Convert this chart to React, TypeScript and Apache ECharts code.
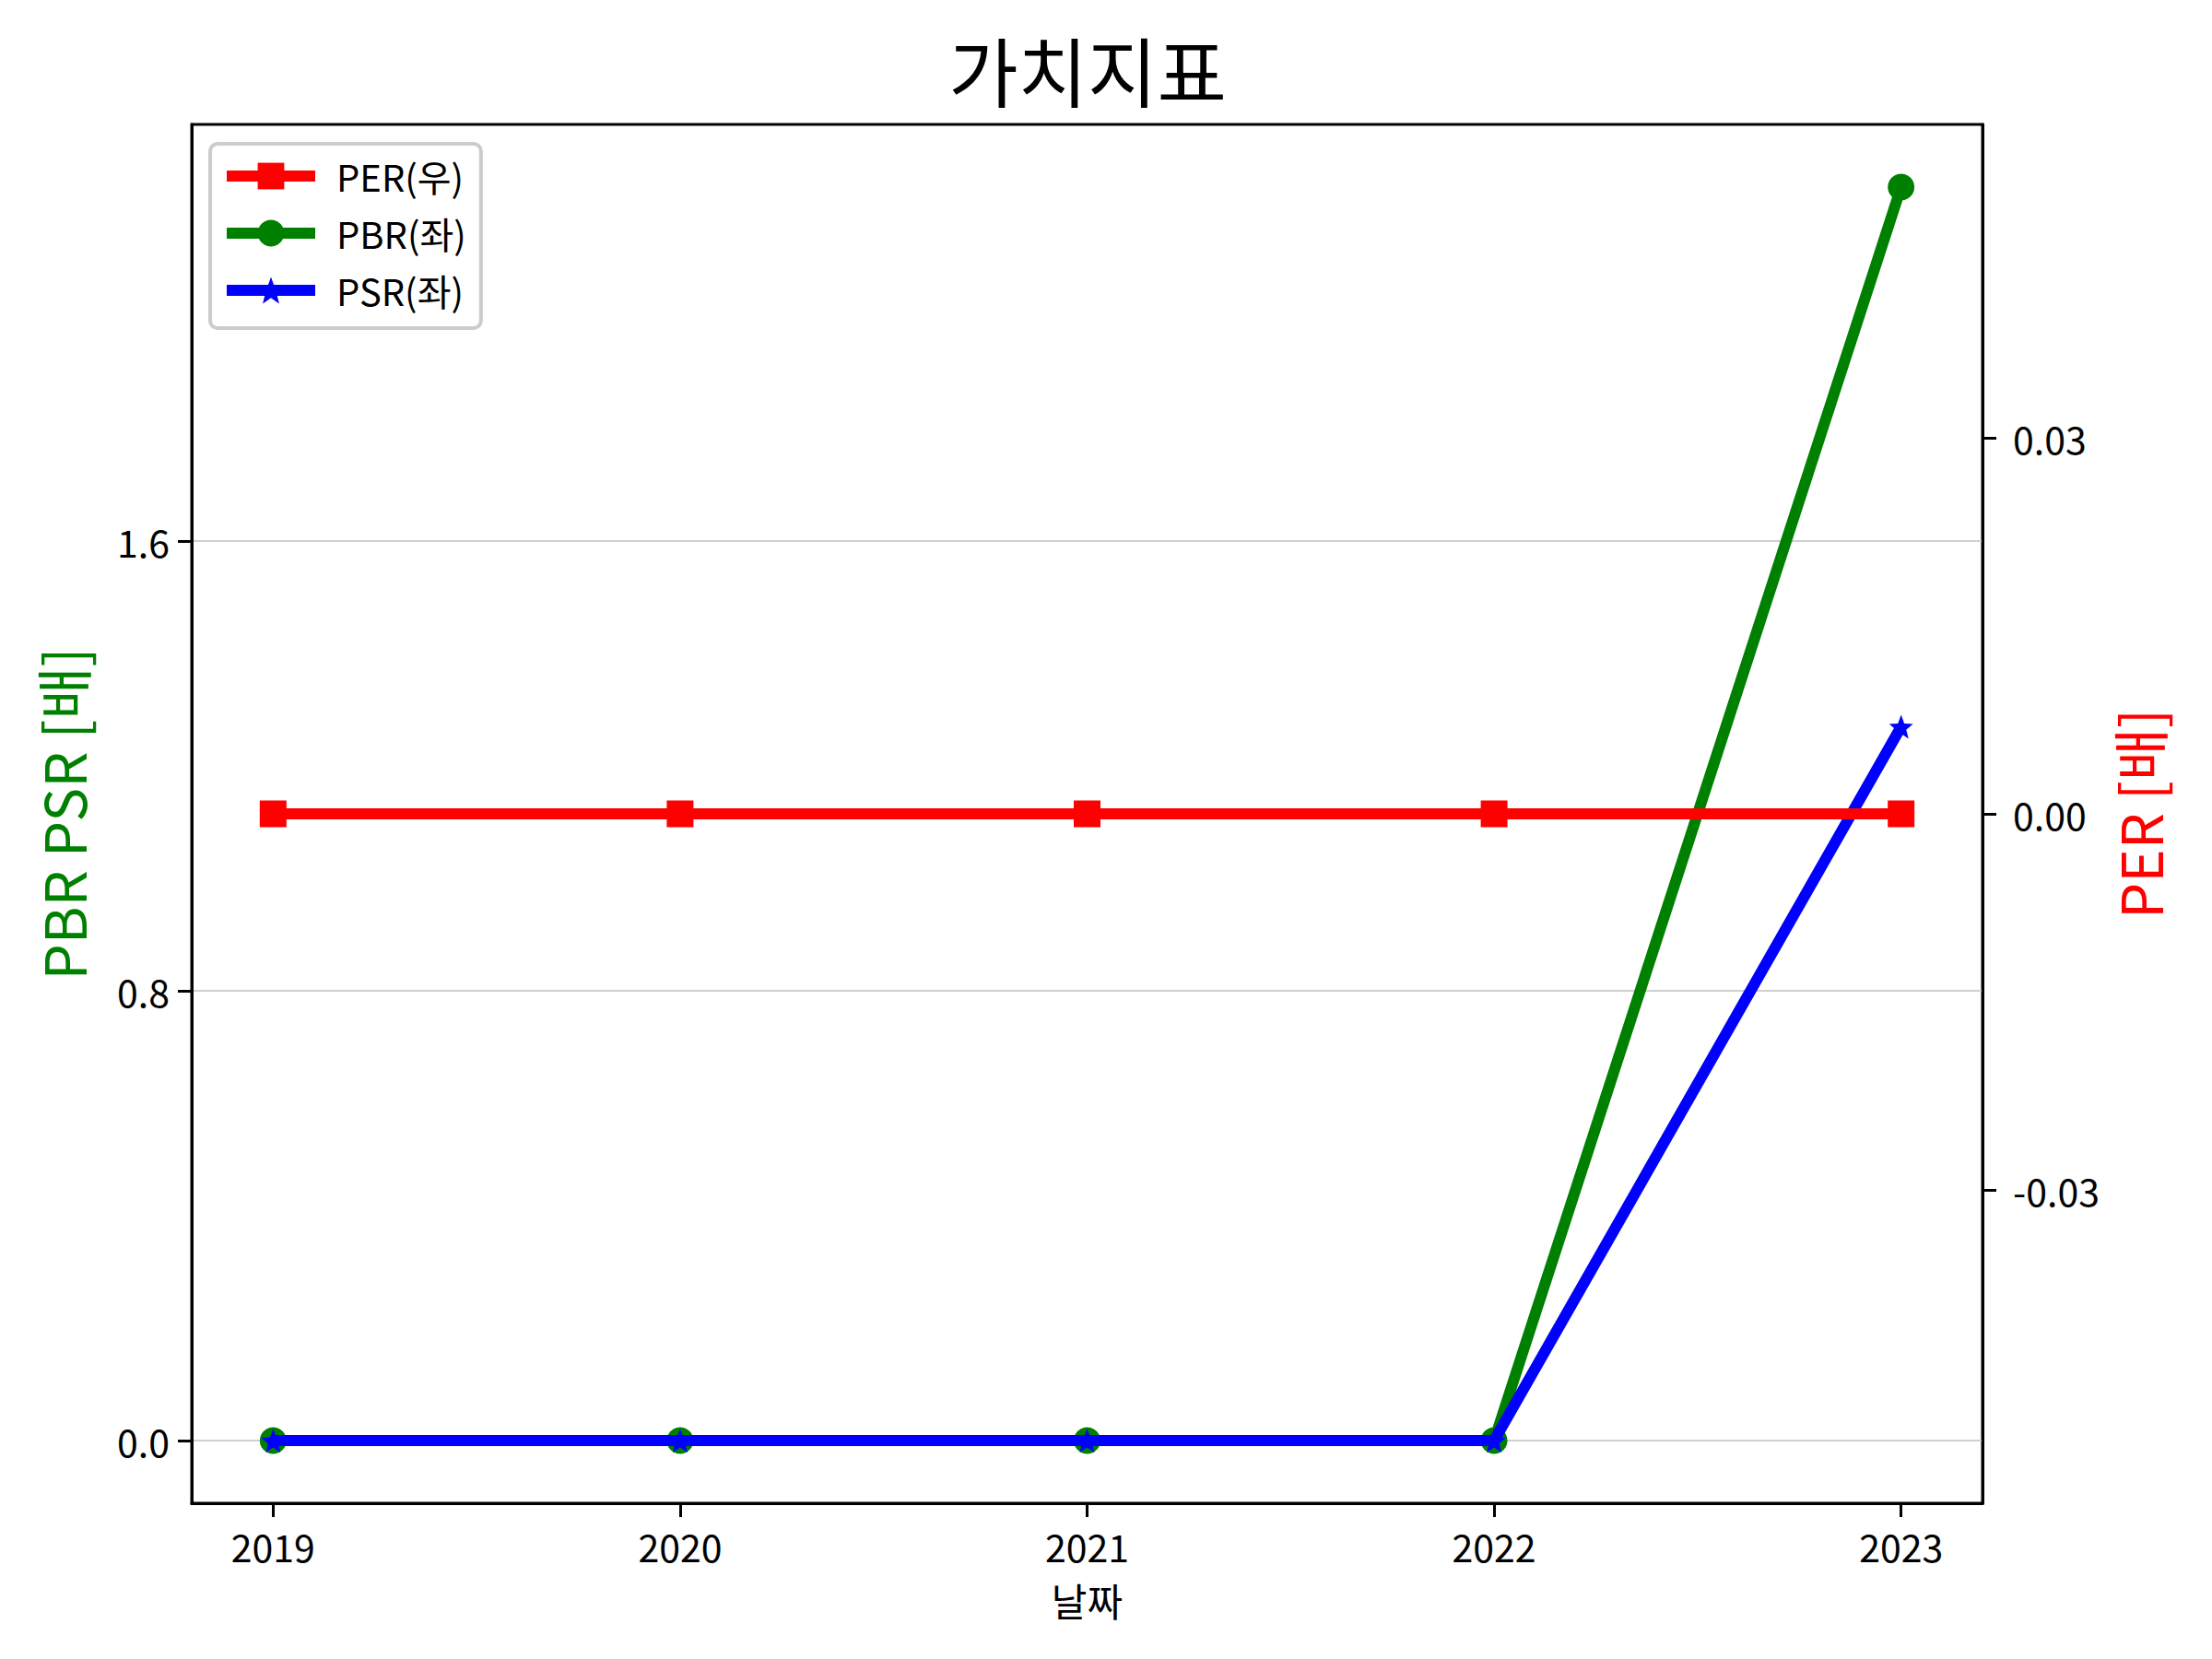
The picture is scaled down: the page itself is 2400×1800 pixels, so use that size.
import React, { useEffect, useRef } from "react";
import * as echarts from "echarts";

const years = [2019, 2020, 2021, 2022, 2023];
const perValues = [0, 0, 0, 0, 0];
const pbrValues = [0, 0, 0, 0, 2.23];
const psrValues = [0, 0, 0, 0, 1.27];

const leftTicks = [0, 0.8, 1.6];
const rightTicks = [-0.03, 0, 0.03];

const FONT = "'Noto Sans CJK KR', 'Noto Sans', sans-serif";
const STAR =
  "path://M12,1 L14.9,8.6 L23,9 L16.7,14.1 L18.8,22 L12,17.6 L5.2,22 L7.3,14.1 L1,9 L9.1,8.6 Z";

const pairs = (vals: number[]) => years.map((y, i) => [y, vals[i]]);

export default function App() {
  const ref = useRef<HTMLDivElement>(null);

  useEffect(() => {
    document.body.style.margin = "0";
    if (!ref.current) return;
    const chart = echarts.init(ref.current, undefined, { renderer: "svg" });

    const pbrMax = Math.max(...pbrValues, ...psrValues);
    const pbrMin = Math.min(...pbrValues, ...psrValues);
    const span = pbrMax - pbrMin;

    chart.setOption({
      animation: false,
      backgroundColor: "#ffffff",
      textStyle: { fontFamily: FONT },
      title: {
        text: "가치지표",
        left: 1180,
        top: 33,
        padding: 0,
        textAlign: "center",
        textStyle: { fontSize: 82, fontWeight: "normal", color: "#000", fontFamily: FONT },
      },
      grid: {
        left: 208,
        right: 249,
        top: 135,
        bottom: 169,
        show: true,
        borderColor: "#000",
        borderWidth: 3,
        backgroundColor: "transparent",
      },
      legend: {
        orient: "vertical",
        left: 228,
        top: 156,
        padding: [15, 16, 21, 12],
        itemWidth: 96,
        itemHeight: 36,
        itemGap: 22,
        backgroundColor: "#ffffff",
        borderColor: "#cccccc",
        borderWidth: 4,
        borderRadius: 8,
        data: ["PER(우)", "PBR(좌)", "PSR(좌)"],
        lineStyle: { width: 12 },
        textStyle: { fontSize: 40, color: "#000", fontFamily: FONT, padding: [0, 0, 0, 18] },
      },
      xAxis: {
        type: "value",
        min: 2018.8,
        max: 2023.2,
        name: "날짜",
        nameLocation: "middle",
        nameGap: 83,
        nameTextStyle: { fontSize: 42, color: "#000", fontFamily: FONT },
        axisLine: { show: true, onZero: false, lineStyle: { color: "#000", width: 3 } },
        axisTick: { show: true, length: 15, lineStyle: { color: "#000", width: 3 }, customValues: years },
        axisLabel: {
          fontSize: 41,
          color: "#000",
          margin: 25,
          customValues: years,
          formatter: (v: number) => String(Math.round(v)),
        },
        splitLine: { show: false },
      },
      yAxis: [
        {
          type: "value",
          position: "left",
          min: pbrMin - span * 0.05,
          max: pbrMax + span * 0.05,
          name: "PBR PSR [배]",
          nameLocation: "middle",
          nameRotate: 90,
          nameGap: 110,
          nameTextStyle: { fontSize: 62, color: "#008000", fontFamily: FONT },
          axisLine: { show: true, onZero: false, lineStyle: { color: "#000", width: 3 } },
          axisTick: { show: true, length: 15, lineStyle: { color: "#000", width: 3 }, customValues: leftTicks },
          axisLabel: {
            fontSize: 41,
            color: "#000",
            margin: 24,
            customValues: leftTicks,
            formatter: (v: number) => v.toFixed(1),
          },
          splitLine: { show: true, lineStyle: { color: "#d0d0d0", width: 2 } },
        },
        {
          type: "value",
          position: "right",
          min: -0.055,
          max: 0.055,
          name: "PER [배]",
          nameLocation: "middle",
          nameRotate: 90,
          nameGap: 133,
          nameTextStyle: { fontSize: 62, color: "#ff0000", fontFamily: FONT },
          axisLine: { show: true, onZero: false, lineStyle: { color: "#000", width: 3 } },
          axisTick: { show: true, length: 15, lineStyle: { color: "#000", width: 3 }, customValues: rightTicks },
          axisLabel: {
            fontSize: 41,
            color: "#000",
            margin: 33,
            customValues: rightTicks,
            formatter: (v: number) => v.toFixed(2),
          },
          splitLine: { show: false },
        },
      ],
      series: [
        {
          name: "PER(우)",
          type: "line",
          yAxisIndex: 1,
          data: pairs(perValues),
          symbol: "rect",
          symbolSize: 29,
          z: 5,
          lineStyle: { color: "#ff0000", width: 12 },
          itemStyle: { color: "#ff0000" },
          clip: false,
        },
        {
          name: "PBR(좌)",
          type: "line",
          yAxisIndex: 0,
          data: pairs(pbrValues),
          symbol: "circle",
          symbolSize: 29,
          z: 3,
          lineStyle: { color: "#008000", width: 12 },
          itemStyle: { color: "#008000" },
          clip: false,
        },
        {
          name: "PSR(좌)",
          type: "line",
          yAxisIndex: 0,
          data: pairs(psrValues),
          symbol: STAR,
          symbolSize: 26,
          z: 4,
          lineStyle: { color: "#0000ff", width: 12 },
          itemStyle: { color: "#0000ff" },
          clip: false,
        },
      ],
    });

    return () => chart.dispose();
  }, []);

  return <div ref={ref} style={{ width: 2400, height: 1800 }} />;
}
